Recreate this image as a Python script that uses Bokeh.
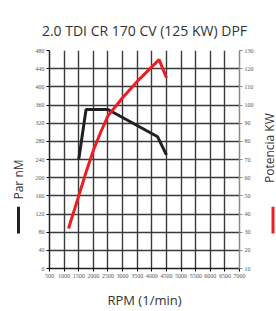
from bokeh.plotting import figure
from bokeh.models import Range1d, LinearAxis, FixedTicker
from bokeh.layouts import row
from bokeh.core.properties import value
from bokeh.embed import file_html
from bokeh.resources import INLINE
import math

# ---- data ----
title_text = "2.0 TDI CR 170 CV (125 KW) DPF"
x_label = "RPM (1/min)"
left_label = "Par nM"
right_label = "Potencia KW"
torque_rpm = [1500, 1750, 2500, 4200, 4500]
torque_nm = [240, 350, 350, 290, 250]
power_rpm = [1150, 1500, 1750, 2000, 2250, 2500, 3000, 3500, 4250, 4500]
power_kw = [32, 50, 63, 75, 85, 94, 104, 113, 125, 115]
x_ticks = [500, 1000, 1500, 2000, 2500, 3000, 3500, 4000, 4500, 5000, 5500, 6000, 6500, 7000]
left_ticks = [0, 40, 80, 120, 160, 200, 240, 280, 320, 360, 400, 440, 480]
right_ticks = [10, 20, 30, 40, 50, 60, 70, 80, 90, 100, 110, 120, 130]

FONT = "Open Sans"
TICK_FONT = "Liberation Serif"
TEXT_COLOR = "#333333"
BLACK = "#231f20"
RED = "#ee1c25"
H = 311
TOP, BOTTOM = 50, 38

# ---- main chart ----
yr = Range1d(0, 480)
p = figure(width=226, height=H, output_backend="svg", toolbar_location=None,
           x_range=Range1d(500, 7000), y_range=yr,
           min_border_left=19, min_border_right=16, min_border_top=TOP, min_border_bottom=BOTTOM)
p.outline_line_color = None

p.extra_y_ranges = {"kw": Range1d(10, 130)}
raxis = LinearAxis(y_range_name="kw")
p.add_layout(raxis, "right")

p.xaxis.ticker = FixedTicker(ticks=x_ticks)
p.yaxis[0].ticker = FixedTicker(ticks=left_ticks)
raxis.ticker = FixedTicker(ticks=right_ticks)
p.xgrid.ticker = FixedTicker(ticks=x_ticks)
p.ygrid.ticker = FixedTicker(ticks=left_ticks)
for g in (p.xgrid, p.ygrid):
    g.grid_line_color = "#3a3a3a"
    g.grid_line_width = 1.4

for ax in p.axis:
    ax.major_label_text_font = TICK_FONT
    ax.major_label_text_font_size = "6px"
    ax.major_label_text_color = "#555555"
    ax.minor_tick_line_color = None
    ax.major_tick_out = 3
    ax.major_tick_in = 0
    ax.major_label_standoff = 2
    ax.axis_line_width = 1.5
p.xaxis.axis_line_color = "#222222"
p.yaxis[0].axis_line_color = "#222222"
raxis.axis_line_color = "#8a8a8a"
raxis.major_tick_line_color = "#8a8a8a"

p.xaxis.axis_label = x_label
p.xaxis.axis_label_text_font = FONT
p.xaxis.axis_label_text_font_size = "13px"
p.xaxis.axis_label_text_font_style = "normal"
p.xaxis.axis_label_text_color = TEXT_COLOR
p.xaxis.axis_label_standoff = 10

p.title.text = title_text
p.title.text_font = FONT
p.title.text_font_size = "14px"
p.title.text_font_style = "normal"
p.title.text_color = TEXT_COLOR
p.title.align = "center"
p.title.standoff = 22

p.line(torque_rpm, torque_nm, line_color=BLACK, line_width=3)
p.line(power_rpm, power_kw, y_range_name="kw", line_color=RED, line_width=3)


# side panels share the main chart's vertical scale so that their frames line up
def side_panel(w, label, tx, ty, bar_x, bar_lo, bar_hi, bar_color):
    s = figure(width=w, height=H, output_backend="svg", toolbar_location=None,
               x_range=Range1d(0, w), y_range=yr,
               x_axis_location=None, y_axis_location=None,
               min_border_left=0, min_border_right=0,
               min_border_top=TOP, min_border_bottom=BOTTOM)
    s.outline_line_color = None
    s.grid.visible = False
    s.text(x=[tx], y=[ty], text=[label], angle=math.pi / 2,
           text_font=value(FONT), text_font_size="12px", text_color=TEXT_COLOR,
           text_align="center", text_baseline="middle")
    s.quad(left=[bar_x - 1.5], right=[bar_x + 1.5], bottom=[bar_lo], top=[bar_hi],
           fill_color=bar_color, line_color=None)
    return s


left = side_panel(30, left_label, 18, 196, 18, 77, 136, BLACK)
right = side_panel(20, right_label, 12.5, 265, 16.5, 77, 136, RED)

layout = row(left, p, right, spacing=0)
open("out.html", "w").write(file_html(layout, INLINE))
